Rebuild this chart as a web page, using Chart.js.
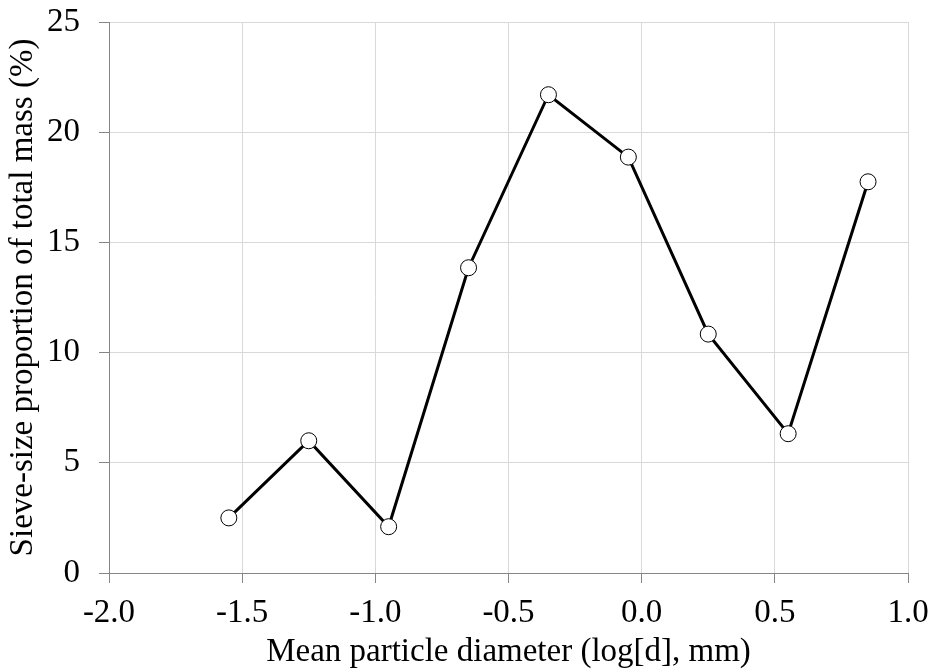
<!DOCTYPE html>
<html>
<head>
<meta charset="utf-8">
<script src="https://cdn.jsdelivr.net/npm/chart.js@4.4.1/dist/chart.umd.min.js"></script>
<style>
  html, body { margin: 0; padding: 0; background: #fff; }
  #wrap { width: 933px; height: 672px; position: relative; }
</style>
</head>
<body>
<div id="wrap"><canvas id="sieveChart"></canvas></div>
<script>
// valores
const logDiameter = [-1.55, -1.25, -0.95, -0.65, -0.35, -0.05, 0.25, 0.55, 0.85];
const massPercent = [2.5, 6.0, 2.1, 13.85, 21.7, 18.87, 10.84, 6.32, 17.75];

const xTitle = 'Mean particle diameter (log[d], mm)';
const yTitle = 'Sieve-size proportion of total mass (%)';

const FONT = "'Liberation Serif', 'Times New Roman', serif";
const GRID = '#d9d9d9';
const AXIS = '#868686';

const points = logDiameter.map((x, i) => ({ x, y: massPercent[i] }));

new Chart(document.getElementById('sieveChart'), {
  type: 'scatter',
  data: {
    datasets: [{
      data: points,
      showLine: true,
      borderColor: '#000',
      borderWidth: 3,
      pointRadius: 8,
      pointHoverRadius: 8,
      pointBackgroundColor: '#fff',
      pointBorderColor: '#000',
      pointBorderWidth: 1,
      clip: false
    }]
  },
  options: {
    responsive: true,
    maintainAspectRatio: false,
    animation: false,
    layout: { padding: { top: 22, right: 25, left: 0, bottom: 0 } },
    plugins: {
      legend: { display: false },
      tooltip: { enabled: false }
    },
    scales: {
      x: {
        type: 'linear',
        min: -2,
        max: 1,
        afterFit: (s) => {
          s.height = 99;
          s.paddingLeft = 0;
          s.paddingRight = 0;
        },
        grid: { color: GRID, tickColor: AXIS, tickLength: 10 },
        border: { color: AXIS, width: 1 },
        ticks: {
          stepSize: 0.5,
          color: '#000',
          padding: 11,
          font: { family: FONT, size: 33 },
          callback: (v) => v.toFixed(1)
        },
        title: {
          display: true,
          text: xTitle,
          color: '#000',
          padding: { top: 0, bottom: 0 },
          font: { family: FONT, size: 33 }
        }
      },
      y: {
        type: 'linear',
        min: 0,
        max: 25,
        afterFit: (s) => {
          s.width = 109;
          s.paddingTop = 0;
          s.paddingBottom = 0;
        },
        grid: { color: GRID, tickColor: AXIS, tickLength: 10 },
        border: { color: AXIS, width: 1 },
        ticks: {
          stepSize: 5,
          color: '#000',
          padding: 19,
          font: { family: FONT, size: 33 }
        },
        title: {
          display: true,
          text: yTitle,
          color: '#000',
          padding: { top: 4, bottom: 0 },
          font: { family: FONT, size: 33 }
        }
      }
    }
  }
});
</script>
</body>
</html>
